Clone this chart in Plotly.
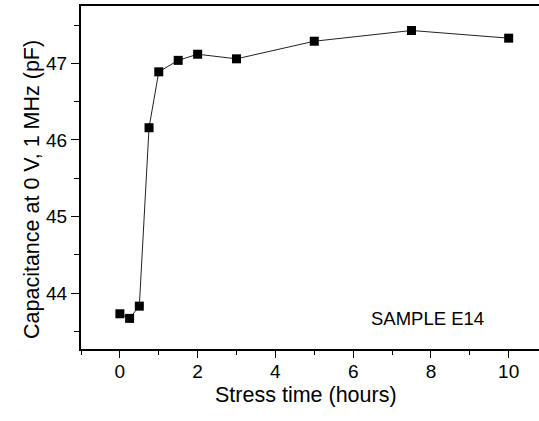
import plotly.graph_objects as go

stress_hours = [0, 0.25, 0.5, 0.75, 1, 1.5, 2, 3, 5, 7.5, 10]
capacitance_pf = [43.73, 43.67, 43.83, 46.16, 46.89, 47.04, 47.12, 47.06, 47.29, 47.43, 47.33]
x_ticks = [0, 2, 4, 6, 8, 10]
y_ticks = [44, 45, 46, 47]

FONT = "Liberation Sans, Arial, sans-serif"
W, H = 539, 421
L, R, T, B = 81, 0, 6, 72

fig = go.Figure()
fig.add_trace(go.Scatter(
    x=stress_hours, y=capacitance_pf, mode="lines+markers",
    line=dict(color="#222222", width=1),
    marker=dict(symbol="square", size=9, color="black"),
    showlegend=False,
))

pw, ph = W - L - R, H - T - B
def px_to_paper(px, py):
    return (px - L) / pw, (H - B - py) / ph

ax, ay = px_to_paper(427, 318)
fig.add_annotation(x=ax, y=ay, xref="paper", yref="paper", xanchor="center", yanchor="middle",
                   text="SAMPLE E14", showarrow=False,
                   font=dict(family=FONT, size=18.5, color="black"))

tx, ty = px_to_paper(306, 395)
fig.add_annotation(x=tx, y=ty, xref="paper", yref="paper", xanchor="center", yanchor="middle",
                   text="Stress time (hours)", showarrow=False,
                   font=dict(family=FONT, size=21.5, color="black"))

yx, yy = px_to_paper(32, 190)
fig.add_annotation(x=yx, y=yy, xref="paper", yref="paper", xanchor="center", yanchor="middle",
                   textangle=-90, text="Capacitance at 0 V, 1 MHz (pF)", showarrow=False,
                   font=dict(family=FONT, size=21.5, color="black"))

fig.update_layout(
    width=W, height=H,
    margin=dict(l=L, r=R, t=T, b=B),
    paper_bgcolor="white", plot_bgcolor="white",
    font=dict(family=FONT, color="black"),
    xaxis=dict(
        range=[-1, 10.78], tickvals=x_ticks, ticks="outside", ticklen=7, tickwidth=1.2,
        tickcolor="black", showline=True, linecolor="black", linewidth=2, mirror=True,
        showgrid=False, zeroline=False, tickfont=dict(size=19), ticklabelstandoff=-3,
        minor=dict(dtick=1, tick0=0, ticks="outside", ticklen=4, tickwidth=1.2, tickcolor="black"),
    ),
    yaxis=dict(
        range=[43.27, 47.75], tickvals=y_ticks, ticks="outside", ticklen=8, tickwidth=1.2,
        tickcolor="black", showline=True, linecolor="black", linewidth=2, mirror=False,
        showgrid=False, zeroline=False, tickfont=dict(size=19),
        minor=dict(dtick=0.5, tick0=43, ticks="outside", ticklen=5, tickwidth=1.2, tickcolor="black"),
    ),
)

fig.write_html("out.html")
